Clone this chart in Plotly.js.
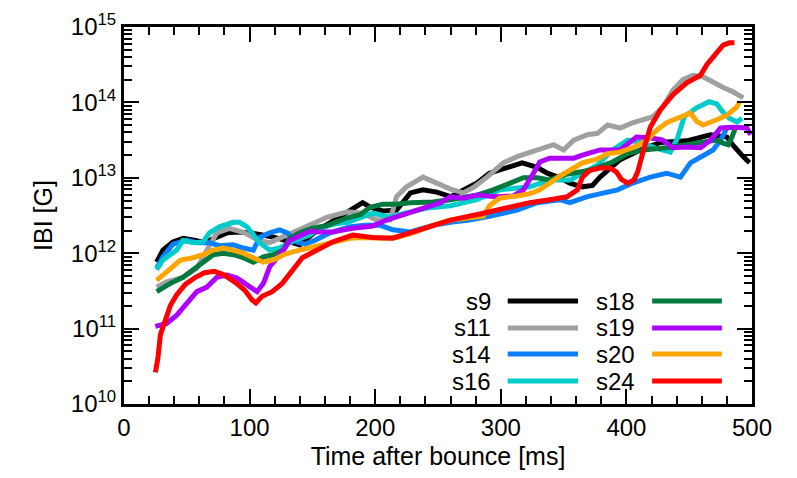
<!DOCTYPE html>
<html>
<head>
<meta charset="utf-8">
<script src="https://cdn.plot.ly/plotly-3.0.1.min.js"></script>
<style>
  html, body { margin: 0; padding: 0; background: #fff; }
  #chart { width: 797px; height: 478px; }
</style>
</head>
<body>
<div id="chart"></div>
<script>
// ---- data (time after bounce [ms], |B| [G]) ----
const seriesNames = ["s9", "s11", "s14", "s16", "s18", "s19", "s20", "s24"];
const seriesColors = ["#000000", "#a0a0a0", "#0a80ff", "#00cccc", "#007a3d", "#b000ff", "#ffa500", "#ff0000"];

const t_s9 = [26,31,39,47,57,64,72,82,90,100,110,120,132,140,152,164,178,186,190,196,206,217,228,238,249,260,270,281,291,305,317,329,337,347,355,365,373,379,395,411,427,448,467,480,485,493,498];
const b_s9 = [7.6e11,1.1e12,1.41e12,1.58e12,1.48e12,1.38e12,1.58e12,1.86e12,1.91e12,1.86e12,1.74e12,1.62e12,1.41e12,1.29e12,1.91e12,2.57e12,3.55e12,4.37e12,4.68e12,4.07e12,3.63e12,3.72e12,6.31e12,6.92e12,6.46e12,5.62e12,6.92e12,8.51e12,1.15e13,1.38e13,1.58e13,1.38e13,1.15e13,1.0e13,8.51e12,7.59e12,7.94e12,1.02e13,1.74e13,2.34e13,2.95e13,3.09e13,3.72e13,3.47e13,2.69e13,1.91e13,1.58e13];

const t_s11 = [26,34,47,58,66,74,84,96,107,116,130,146,162,178,190,201,212,217,225,238,249,260,270,279,289,302,313,323,334,342,350,358,369,377,385,395,405,421,429,437,445,453,461,469,477,485,493];
const b_s11 = [3.55e11,4.17e11,4.79e11,6.31e11,1.1e12,1.86e12,2.14e12,1.86e12,1.48e12,1.38e12,1.74e12,2.34e12,3.02e12,3.55e12,3.39e12,2.75e12,2.75e12,5.62e12,7.59e12,1.02e13,8.51e12,7.08e12,6.31e12,7.59e12,1.02e13,1.58e13,1.91e13,2.14e13,2.51e13,2.75e13,2.34e13,3.16e13,3.72e13,3.89e13,5.01e13,4.57e13,5.37e13,6.46e13,8.71e13,1.45e14,2.0e14,2.29e14,2.19e14,1.82e14,1.58e14,1.38e14,1.15e14];

const t_s14 = [26,31,39,50,58,68,76,87,95,103,108,116,124,130,138,144,152,164,180,192,204,214,228,238,246,260,275,291,313,329,347,355,369,385,393,405,419,432,443,451,459,469,475,480];
const b_s14 = [6.31e11,8.91e11,1.32e12,1.48e12,1.38e12,1.38e12,1.26e12,1.29e12,1.17e12,1.1e12,1.62e12,1.86e12,2.04e12,1.86e12,1.41e12,1.32e12,1.48e12,1.86e12,2.24e12,2.34e12,2.34e12,2.04e12,1.91e12,2.14e12,2.34e12,2.57e12,2.75e12,3.09e12,3.72e12,4.68e12,5.13e12,4.68e12,5.62e12,6.46e12,6.92e12,8.51e12,1.02e13,1.15e13,1.02e13,1.58e13,1.91e13,2.34e13,3.16e13,4.57e13];

const t_s16 = [26,31,42,47,55,63,68,76,87,92,98,103,108,116,124,136,148,156,168,178,188,198,212,228,241,260,272,281,299,313,323,339,355,365,377,389,401,411,424,435,441,446,456,466,472,477,482,488,492];
const b_s16 = [6.03e11,8.13e11,1.1e12,1.48e12,1.38e12,1.41e12,1.86e12,2.24e12,2.57e12,2.57e12,2.24e12,1.74e12,1.38e12,1.1e12,1.17e12,1.48e12,1.74e12,2.14e12,2.45e12,2.57e12,2.95e12,3.39e12,3.02e12,3.55e12,3.98e12,4.27e12,4.79e12,5.13e12,6.92e12,7.24e12,7.59e12,9.33e12,9.33e12,1.15e13,1.48e13,2.34e13,3.16e13,2.95e13,2.45e13,2.19e13,3.47e13,6.46e13,8.51e13,1.02e14,9.55e13,7.41e13,6.17e13,5.5e13,6.17e13];

const t_s18 = [26,37,47,55,63,71,79,87,95,103,111,119,127,132,140,150,162,178,188,196,206,217,228,246,260,268,281,294,307,318,329,339,350,361,371,381,389,401,413,432,448,461,472,477,481,484,487];
const b_s18 = [3.09e11,3.98e11,4.79e11,6.03e11,7.59e11,9.55e11,1.0e12,9.55e11,8.71e11,7.59e11,8.91e11,9.55e11,1.1e12,1.58e12,1.86e12,2.14e12,2.34e12,2.95e12,3.24e12,4.07e12,4.47e12,4.47e12,4.68e12,4.79e12,5.13e12,5.37e12,5.89e12,6.92e12,8.51e12,1.0e13,1.0e13,9.33e12,1.1e13,1.2e13,1.26e13,1.45e13,1.62e13,2.09e13,2.34e13,2.51e13,2.75e13,2.95e13,3.16e13,2.88e13,2.75e13,3.47e13,4.68e13];

const t_s19 = [25,34,42,50,58,66,74,82,90,98,106,111,116,122,127,132,140,148,156,166,182,198,209,222,238,252,260,270,281,297,310,318,326,331,339,350,358,365,379,395,408,419,429,437,448,459,467,475,485,496,499];
const b_s19 = [1.07e11,1.17e11,1.51e11,2.19e11,3.09e11,3.55e11,4.79e11,5.13e11,4.68e11,3.8e11,3.09e11,3.98e11,6.61e11,8.71e11,1.1e12,1.48e12,1.7e12,1.95e12,1.91e12,1.91e12,2.14e12,2.29e12,2.75e12,3.24e12,3.89e12,4.68e12,5.62e12,5.37e12,5.89e12,5.62e12,5.75e12,6.92e12,1.15e13,1.62e13,1.82e13,1.82e13,1.82e13,2.0e13,2.34e13,2.34e13,3.47e13,3.39e13,3.16e13,2.51e13,2.57e13,2.51e13,3.16e13,4.57e13,4.68e13,4.57e13,3.72e13];

const t_s20 = [26,37,45,55,63,71,79,87,95,103,111,119,127,135,146,156,166,180,190,206,217,230,246,260,275,286,291,299,313,323,331,339,347,355,365,377,385,395,405,416,424,432,443,451,456,461,472,480,488,490];
const b_s20 = [4.37e11,6.31e11,8.13e11,8.71e11,9.55e11,1.1e12,1.17e12,1.1e12,1.0e12,8.71e11,7.59e11,8.13e11,9.55e11,1.05e12,1.17e12,1.29e12,1.38e12,1.58e12,1.62e12,1.58e12,1.62e12,1.86e12,2.34e12,2.75e12,2.95e12,3.09e12,4.27e12,5.37e12,5.75e12,6.17e12,6.92e12,8.71e12,1.05e13,1.26e13,1.58e13,1.78e13,2.09e13,2.19e13,2.51e13,3.09e13,4.27e13,5.37e13,6.46e13,7.24e13,5.62e13,5.01e13,5.89e13,6.76e13,8.71e13,1.02e14];

const t_s24 = [25,27,29,33,37,42,49,57,64,72,80,88,96,102,105,110,118,126,134,142,150,166,182,198,214,228,244,260,286,305,323,339,353,361,365,371,379,387,392,396,401,406,409,413,419,427,437,448,459,464,472,477,482,486];
const b_s24 = [2.63e10,4.07e10,8.32e10,1.38e11,2.04e11,2.82e11,3.89e11,4.79e11,5.5e11,5.75e11,5.13e11,4.17e11,3.24e11,2.4e11,2.19e11,2.69e11,3.09e11,3.98e11,6.03e11,8.71e11,1.02e12,1.41e12,1.74e12,1.62e12,1.58e12,1.86e12,2.24e12,2.75e12,3.39e12,3.98e12,4.68e12,5.13e12,5.62e12,6.92e12,1.02e13,1.26e13,1.35e13,1.35e13,1.2e13,9.55e12,8.51e12,9.33e12,1.2e13,2.14e13,4.68e13,7.94e13,1.26e14,1.82e14,2.29e14,3.16e14,4.68e14,5.75e14,6.17e14,6.17e14];

const yTickVals = [1e10, 1e11, 1e12, 1e13, 1e14, 1e15];
const yTickText = ["10<sup>10</sup>", "10<sup>11</sup>", "10<sup>12</sup>", "10<sup>13</sup>", "10<sup>14</sup>", "10<sup>15</sup>"];

// ---- build ----
const tArrays = [t_s9, t_s11, t_s14, t_s16, t_s18, t_s19, t_s20, t_s24];
const bArrays = [b_s9, b_s11, b_s14, b_s16, b_s18, b_s19, b_s20, b_s24];

const traces = seriesNames.map((name, i) => ({
  type: "scatter",
  mode: "lines",
  name: name,
  x: tArrays[i],
  y: bArrays[i],
  line: { color: seriesColors[i], width: 5 },
  showlegend: false
}));

// minor log ticks (2..9 per decade)
const minorVals = [];
for (let e = 10; e < 15; e++) {
  for (let m = 2; m <= 9; m++) minorVals.push(m * Math.pow(10, e));
}

const FONT = "Liberation Sans, Arial, Helvetica, sans-serif";

// custom legend: label on the left, line sample on the right
const legendRows = [0.273, 0.2016, 0.1326, 0.061];
const legendCols = [
  { textRight: 0.5876, lineX0: 0.611, lineX1: 0.723 },
  { textRight: 0.817, lineX0: 0.841, lineX1: 0.952 }
];
const annotations = [];
const shapes = [];
seriesNames.forEach((name, i) => {
  const col = legendCols[Math.floor(i / 4)];
  const yy = legendRows[i % 4];
  annotations.push({
    xref: "paper", yref: "paper", x: col.textRight, y: yy,
    xanchor: "right", yanchor: "middle", showarrow: false,
    text: name, font: { family: FONT, size: 24, color: "#000" }
  });
  shapes.push({
    type: "line", xref: "paper", yref: "paper",
    x0: col.lineX0, x1: col.lineX1, y0: yy, y1: yy,
    line: { color: seriesColors[i], width: 5 }
  });
});

const layout = {
  width: 797, height: 478,
  margin: { l: 124, r: 45, t: 27, b: 74 },
  paper_bgcolor: "#ffffff",
  plot_bgcolor: "#ffffff",
  font: { family: FONT, size: 24, color: "#000" },
  showlegend: false,
  xaxis: {
    range: [0, 500],
    dtick: 100,
    tick0: 0,
    ticks: "inside",
    ticklen: 15,
    tickwidth: 2,
    tickcolor: "#000",
    showline: true,
    linewidth: 3,
    linecolor: "#000",
    mirror: "allticks",
    showgrid: false,
    zeroline: false,
    tickfont: { family: FONT, size: 24, color: "#000" },
    minor: { ticks: "inside", dtick: 20, tick0: 0, ticklen: 8, tickwidth: 2, tickcolor: "#000", showgrid: false },
    title: { text: "Time after bounce [ms]", font: { family: FONT, size: 25, color: "#000" }, standoff: 8 }
  },
  yaxis: {
    type: "log",
    range: [10, 15],
    tickmode: "array",
    tickvals: yTickVals,
    ticktext: yTickText,
    ticks: "inside",
    ticklen: 15,
    tickwidth: 2,
    tickcolor: "#000",
    showline: true,
    linewidth: 3,
    linecolor: "#000",
    mirror: "allticks",
    showgrid: false,
    zeroline: false,
    tickfont: { family: FONT, size: 24, color: "#000" },
    minor: { ticks: "inside", tickmode: "array", tickvals: minorVals, ticklen: 8, tickwidth: 2, tickcolor: "#000", showgrid: false },
    title: { text: "IBI [G]", font: { family: FONT, size: 25, color: "#000" }, standoff: 12 }
  },
  annotations: annotations,
  shapes: shapes
};

Plotly.newPlot("chart", traces, layout, { displayModeBar: false, staticPlot: true });
</script>
</body>
</html>
